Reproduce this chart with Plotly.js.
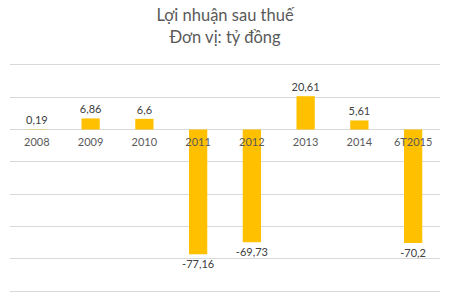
<!DOCTYPE html>
<html><head><meta charset="utf-8">
<script src="https://cdn.plot.ly/plotly-3.0.1.min.js"></script>
<style>html,body{margin:0;padding:0;background:#fff}</style>
</head><body>
<div id="chart" style="width:450px;height:302px"></div>
<script>
var categories = ["2008","2009","2010","2011","2012","2013","2014","6T2015"];
var values = [0.19, 6.86, 6.6, -77.16, -69.73, 20.61, 5.61, -70.2];
var labels = values.map(function(v){ return String(v).replace('.', ','); });

var fontFam = "Lato, 'Open Sans', sans-serif";
var trace = {
  type: 'bar', x: categories, y: values,
  marker: {color: '#FFC000'},
  text: labels, textposition: 'outside', cliponaxis: false, constraintext: 'none',
  textfont: {family: fontFam, size: 11, color: '#404040'},
  hoverinfo: 'none'
};
var yMin = -103, yMax = 43;
var layout = {
  width: 450, height: 302,
  margin: {l: 10, r: 10, t: 60, b: 6},
  paper_bgcolor: '#fff', plot_bgcolor: '#fff',
  title: {text: 'Lợi nhuận sau thuế<br>Đơn vị: tỷ đồng', x: 0.5, xanchor: 'center', y: 0.93, yanchor: 'top',
          font: {family: fontFam, size: 16.5, color: '#595959'}},
  bargap: 0.66,
  showlegend: false,
  xaxis: {type: 'category', dtick: 1, anchor: 'free', position: (0 - yMin)/(yMax - yMin), showline: false, showgrid: false, ticks: '',
          tickfont: {family: fontFam, size: 11, color: '#595959'}, ticklabelstandoff: 4, fixedrange: true},
  yaxis: {range: [yMin, yMax], dtick: 20, tick0: 0, showticklabels: false, showgrid: true, gridcolor: '#d9d9d9',
          zeroline: true, zerolinecolor: '#d9d9d9', zerolinewidth: 1, fixedrange: true}
};
Plotly.newPlot('chart', [trace], layout, {displayModeBar: false, staticPlot: true});
</script>
</body></html>
